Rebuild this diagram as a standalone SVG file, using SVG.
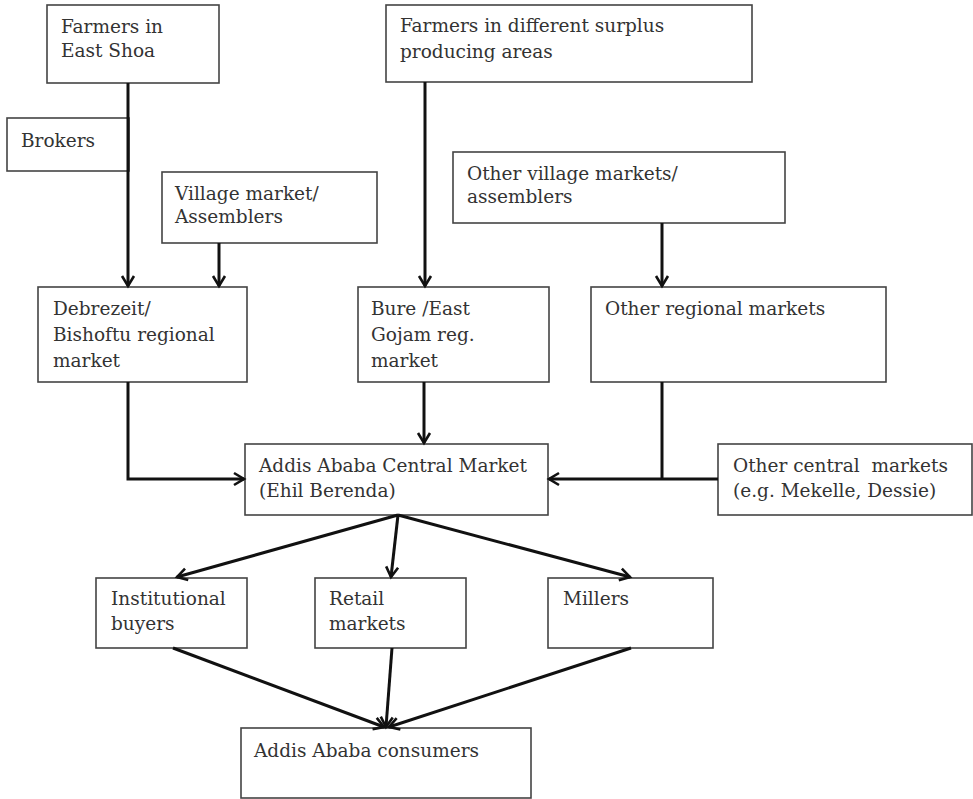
<svg xmlns="http://www.w3.org/2000/svg" width="973" height="799" viewBox="0 0 973 799">
<style>
.box{fill:#fff;stroke:#444;stroke-width:1.6}
.t{font-family:"DejaVu Serif","Liberation Serif",serif;font-size:18.5px;fill:#333}
.c{fill:none;stroke:#111;stroke-width:3}
</style>
<defs>
<marker id="ah" markerUnits="userSpaceOnUse" markerWidth="20" markerHeight="20" viewBox="-12 -10 14 20" refX="0" refY="0" orient="auto">
<path d="M-10,-6 L0,0 L-10,6" fill="none" stroke="#111" stroke-width="2.6"/>
</marker>
</defs>
<rect width="973" height="799" fill="#fff"/>
<g id="farmers-east-shoa"><rect class="box" x="47" y="5" width="172" height="78"/><text class="t" x="61" y="33">Farmers in</text><text class="t" x="61" y="57">East Shoa</text></g>
<g id="farmers-surplus"><rect class="box" x="386" y="5" width="366" height="77"/><text class="t" x="400" y="32">Farmers in different surplus</text><text class="t" x="400" y="58">producing areas</text></g>
<g id="brokers"><rect class="box" x="7" y="118" width="122" height="53"/><text class="t" x="21" y="147">Brokers</text></g>
<g id="village-market"><rect class="box" x="162" y="172" width="215" height="71"/><text class="t" x="175" y="200">Village market/</text><text class="t" x="175" y="223">Assemblers</text></g>
<g id="other-village"><rect class="box" x="453" y="152" width="332" height="71"/><text class="t" x="467" y="180">Other village markets/</text><text class="t" x="467" y="203">assemblers</text></g>
<g id="debrezeit"><rect class="box" x="38" y="287" width="209" height="95"/><text class="t" x="53" y="315">Debrezeit/</text><text class="t" x="53" y="341">Bishoftu regional</text><text class="t" x="53" y="367">market</text></g>
<g id="bure"><rect class="box" x="358" y="287" width="191" height="95"/><text class="t" x="371" y="315">Bure /East</text><text class="t" x="371" y="341">Gojam reg.</text><text class="t" x="371" y="367">market</text></g>
<g id="other-regional"><rect class="box" x="591" y="287" width="295" height="95"/><text class="t" x="605" y="315">Other regional markets</text></g>
<g id="addis-central"><rect class="box" x="245" y="444" width="303" height="71"/><text class="t" x="259" y="472">Addis Ababa Central Market</text><text class="t" x="259" y="497">(Ehil Berenda)</text></g>
<g id="other-central"><rect class="box" x="718" y="444" width="254" height="71"/><text class="t" x="733" y="472" xml:space="preserve">Other central  markets</text><text class="t" x="733" y="497">(e.g. Mekelle, Dessie)</text></g>
<g id="institutional"><rect class="box" x="96" y="578" width="151" height="70"/><text class="t" x="111" y="605">Institutional</text><text class="t" x="111" y="630">buyers</text></g>
<g id="retail"><rect class="box" x="315" y="578" width="151" height="70"/><text class="t" x="329" y="605">Retail</text><text class="t" x="329" y="630">markets</text></g>
<g id="millers"><rect class="box" x="548" y="578" width="165" height="70"/><text class="t" x="563" y="605">Millers</text></g>
<g id="consumers"><rect class="box" x="241" y="728" width="290" height="70"/><text class="t" x="254" y="757">Addis Ababa consumers</text></g>
<g id="connectors">
<path class="c" d="M128,83 V286" marker-end="url(#ah)"/>
<path class="c" d="M219,243 V286" marker-end="url(#ah)"/>
<path class="c" d="M425,82 V286" marker-end="url(#ah)"/>
<path class="c" d="M662,223 V286" marker-end="url(#ah)"/>
<path class="c" d="M128,382 V479 H244" marker-end="url(#ah)"/>
<path class="c" d="M424,382 V443" marker-end="url(#ah)"/>
<path class="c" d="M662,382 V479"/>
<path class="c" d="M718,479 H549" marker-end="url(#ah)"/>
<path class="c" d="M398,515 L177,577" marker-end="url(#ah)"/>
<path class="c" d="M398,515 L391,577" marker-end="url(#ah)"/>
<path class="c" d="M398,515 L630,577" marker-end="url(#ah)"/>
<path class="c" d="M173,648 L384,727" marker-end="url(#ah)"/>
<path class="c" d="M392,648 L386,727" marker-end="url(#ah)"/>
<path class="c" d="M631,648 L389,727" marker-end="url(#ah)"/>
</g>
</svg>
